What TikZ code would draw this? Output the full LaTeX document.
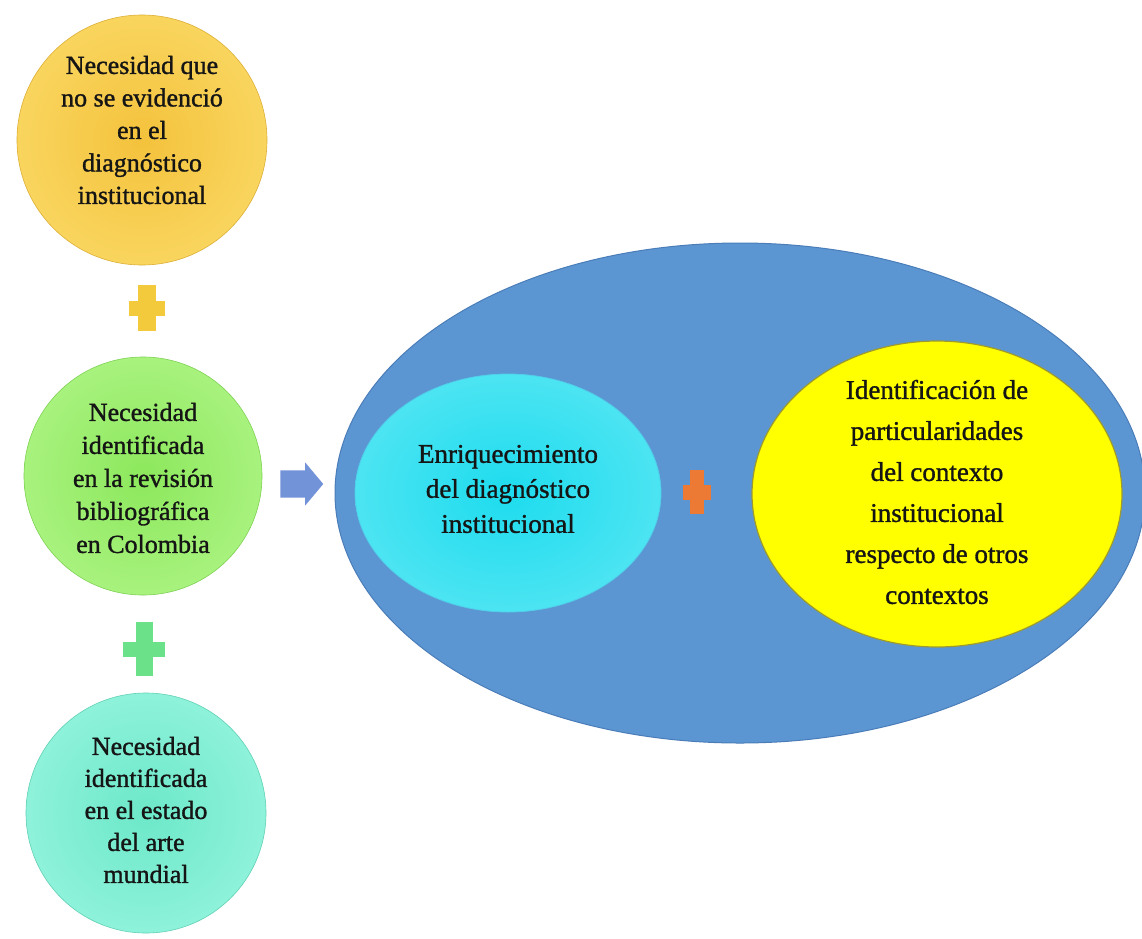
\documentclass[tikz,border=0pt]{standalone}
\usepackage{fontspec}
\setmainfont[FakeBold=1.2]{Liberation Serif}
\usetikzlibrary{shapes.geometric,shapes.arrows}
\definecolor{goldc}{HTML}{F4C23C}
\definecolor{goldl}{HTML}{F9D55E}
\definecolor{greenc}{HTML}{8CE85C}
\definecolor{greenl}{HTML}{A8F27E}
\definecolor{tealc}{HTML}{6CE8C8}
\definecolor{teall}{HTML}{8EF2DA}
\definecolor{bigblue}{HTML}{5B96D3}
\definecolor{bigedge}{HTML}{4A7DB8}
\definecolor{cyanc}{HTML}{1DDCEE}
\definecolor{cyanl}{HTML}{4CE4F2}
\definecolor{yellowc}{HTML}{FFFF00}
\definecolor{yellowedge}{HTML}{9C9A2E}
\definecolor{orangec}{HTML}{EC7A34}
\definecolor{arrowc}{HTML}{7393D9}
\definecolor{plusyellow}{HTML}{F2CA3C}
\definecolor{plusgreen}{HTML}{6BE28A}
\definecolor{txt}{HTML}{151515}
\newcommand\plusmark[7]{% x, y, half-length h, half-length v, half-thick h, half-thick v, colour
  \fill[#7] ({#1-#3},{#2-#5}) rectangle ({#1+#3},{#2+#5});
  \fill[#7] ({#1-#6},{#2-#4}) rectangle ({#1+#6},{#2+#4});}
\begin{document}
\begin{tikzpicture}[x=1pt,y=-1pt,
  bubble/.style={circle, inner sep=0pt, line width=0.6pt},
  oval/.style={ellipse, inner sep=0pt},
  label/.style={align=center, text=txt}]
\fill[white] (0,0) rectangle (1142,938);
\useasboundingbox (0,0) rectangle (1142,938);

% left column
\node[bubble, minimum size=250pt, inner color=goldc, outer color=goldl,
      draw=goldc!90!black] (need1) at (142,140) {};
\node[label, font=\fontsize{26}{32.5}\selectfont] (t1) at (142,130)
  {Necesidad que\\no se evidenció\\en el\\diagnóstico\\institucional};

\node[bubble, minimum size=238pt, inner color=greenc, outer color=greenl,
      draw=greenc!90!black] (need2) at (143,476) {};
\node[label, font=\fontsize{26}{33}\selectfont] (t2) at (143,478)
  {Necesidad\\identificada\\en la revisión\\bibliográfica\\en Colombia};

\node[bubble, minimum size=240pt, inner color=tealc, outer color=teall,
      draw=tealc!90!black] (need3) at (146,813) {};
\node[label, font=\fontsize{26}{32}\selectfont] (t3) at (146,810)
  {Necesidad\\identificada\\en el estado\\del arte\\mundial};

\plusmark{147}{308}{18}{23}{7.5}{9}{plusyellow}
\plusmark{144}{649}{21}{27}{7.5}{8.5}{plusgreen}

% arrow
\node[single arrow, fill=arrowc, draw=none, inner sep=0pt,
      minimum height=43pt, single arrow head extend=8pt,
      single arrow tip angle=100] (arr) at (296,484) {\rule{0pt}{27pt}};

% big ellipse
\node[oval, minimum width=810pt, minimum height=500pt, fill=bigblue,
      draw=bigedge, line width=1pt] (big) at (740,493) {};

\node[oval, minimum width=306pt, minimum height=238pt, inner color=cyanc,
      outer color=cyanl, draw=cyanl!70!bigblue, line width=0.8pt] (enr) at (508,493) {};
\node[label, font=\fontsize{27}{35}\selectfont] (tenr) at (508,489)
  {Enriquecimiento\\del diagnóstico\\institucional};

\node[oval, minimum width=370pt, minimum height=306pt, fill=yellowc,
      draw=yellowedge, line width=1.2pt] (iden) at (937,494) {};
\node[label, font=\fontsize{27}{41}\selectfont] (tiden) at (937,492)
  {Identificación de\\particularidades\\del contexto\\institucional\\respecto de otros\\contextos};

\plusmark{697}{492}{14}{22}{7.5}{7}{orangec}
\end{tikzpicture}
\end{document}
